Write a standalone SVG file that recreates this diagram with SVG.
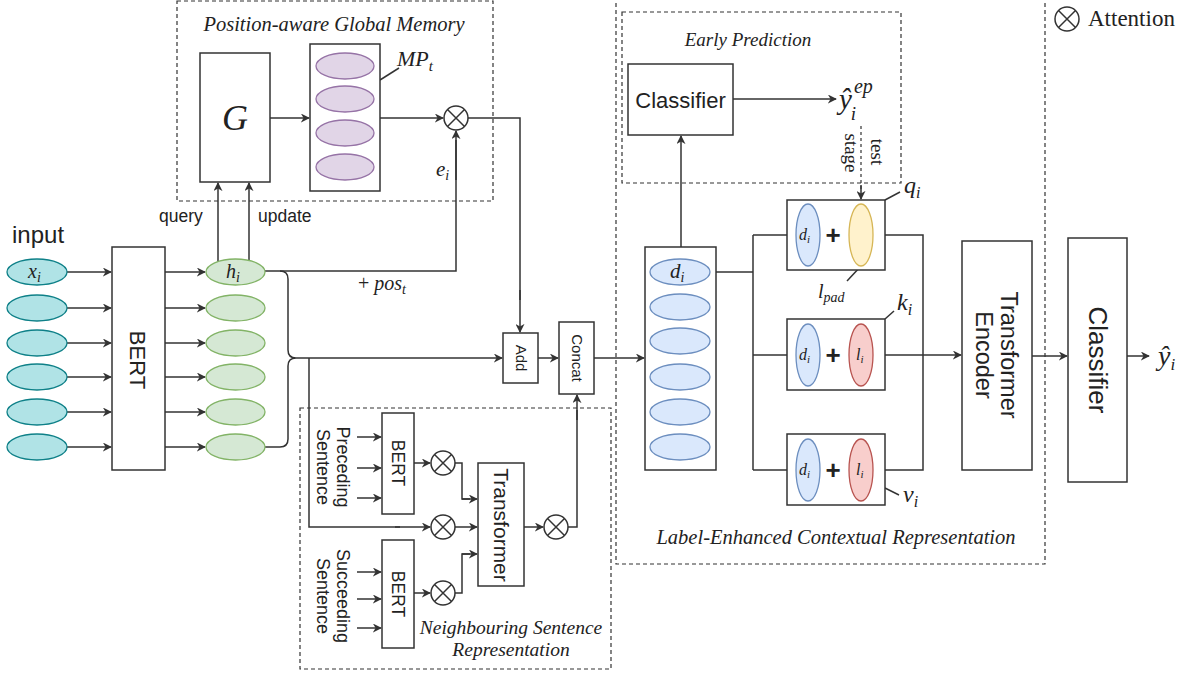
<svg xmlns="http://www.w3.org/2000/svg" width="1195" height="677" viewBox="0 0 1195 677">
<defs>
<marker id="ah" viewBox="0 0 10 10" refX="9" refY="5" markerWidth="9" markerHeight="9" markerUnits="userSpaceOnUse" orient="auto">
<path d="M0,0 L10,5 L0,10 L3,5 z" fill="#333"/>
</marker>
<g id="otimes">
<circle cx="0" cy="0" r="12" fill="#fff" stroke="#333" stroke-width="1.5"/>
<path d="M-8.5,-8.5 L8.5,8.5 M-8.5,8.5 L8.5,-8.5" stroke="#333" stroke-width="1.5"/>
</g>
</defs>
<style>
.box{fill:#fff;stroke:#333;stroke-width:1.5}
.dash{fill:none;stroke:#333;stroke-width:1.2;stroke-dasharray:4,3}
.ln{fill:none;stroke:#333;stroke-width:1.5}
.arr{fill:none;stroke:#333;stroke-width:1.5;marker-end:url(#ah)}
.sans{font-family:"Liberation Sans",Arial,sans-serif;fill:#222}
.ser{font-family:"Liberation Serif","Times New Roman",serif;fill:#222}
.it{font-style:italic}
.cyan{fill:#b0e3e6;stroke:#0e8088;stroke-width:1.3}
.green{fill:#d5e8d4;stroke:#82b366;stroke-width:1.3}
.blue{fill:#dae8fc;stroke:#6c8ebf;stroke-width:1.3}
.purple{fill:#e1d5e7;stroke:#9673a6;stroke-width:1.3}
.yellow{fill:#fff2cc;stroke:#d6b656;stroke-width:1.3}
.red{fill:#f8cecc;stroke:#b85450;stroke-width:1.3}
</style>

<!-- dashed group boxes -->
<g id="group-global-memory">
<rect class="dash" x="177" y="1" width="316" height="200"/>
<text class="ser it" x="334" y="31" font-size="20.5" text-anchor="middle">Position-aware Global Memory</text>
</g>
<g id="group-neighbour">
<rect class="dash" x="300" y="408" width="311" height="261"/>
<text class="ser it" x="511" y="634" font-size="19.5" text-anchor="middle">Neighbouring Sentence</text>
<text class="ser it" x="511" y="656" font-size="19.5" text-anchor="middle">Representation</text>
</g>
<g id="group-label-enhanced">
<rect class="dash" x="616" y="-2" width="429" height="566"/>
<text class="ser it" x="836" y="544" font-size="20.5" text-anchor="middle">Label-Enhanced Contextual Representation</text>
</g>
<g id="group-early-prediction">
<rect class="dash" x="622" y="12" width="279" height="171"/>
<text class="ser it" x="748" y="46" font-size="19" text-anchor="middle">Early Prediction</text>
</g>

<!-- connectors -->
<g id="connectors">
<path class="arr" d="M67,272 H111"/>
<path class="arr" d="M67,308 H111"/>
<path class="arr" d="M67,343 H111"/>
<path class="arr" d="M67,377 H111"/>
<path class="arr" d="M67,412 H111"/>
<path class="arr" d="M67,447 H111"/>
<path class="arr" d="M165,272 H205"/>
<path class="arr" d="M165,308 H205"/>
<path class="arr" d="M165,343 H205"/>
<path class="arr" d="M165,377 H205"/>
<path class="arr" d="M165,412 H205"/>
<path class="arr" d="M165,447 H205"/>
<path class="arr" d="M218,262 V183"/>
<path class="arr" d="M249,262 V183"/>
<path class="arr" d="M270,118 H309"/>
<path class="arr" d="M380,118 H443"/>
<path class="ln" d="M265,271 H456 V140"/>
<path class="arr" d="M456,180 V131"/>
<path class="ln" d="M468,118 H520 V300"/>
<path class="arr" d="M520,290 V332"/>
<path class="ln" d="M265,447 H280 Q288,447 288,439 L288,366 Q288,358 296,358 Q288,358 288,350 L288,279 Q288,271 280,271"/>
<path class="arr" d="M296,358 H502"/>
<path class="ln" d="M309,358 V527 H400"/>
<path class="arr" d="M395,527 H430"/>
<path class="arr" d="M538,358 H558"/>
<path class="arr" d="M594,358 H644"/>
<path class="arr" d="M357,437 H381"/>
<path class="arr" d="M357,468 H381"/>
<path class="arr" d="M357,498 H381"/>
<path class="arr" d="M357,572 H381"/>
<path class="arr" d="M357,599 H381"/>
<path class="arr" d="M357,628 H381"/>
<path class="arr" d="M414,463 H430"/>
<path class="arr" d="M414,593 H430"/>
<path class="ln" d="M455,463 H462 V499 H470"/>
<path class="arr" d="M462,499 H477"/>
<path class="arr" d="M455,527 H477"/>
<path class="ln" d="M455,593 H462 V554 H470"/>
<path class="arr" d="M462,554 H477"/>
<path class="arr" d="M524,527 H543"/>
<path class="ln" d="M568,527 H577 V410"/>
<path class="arr" d="M577,420 V395"/>
<path class="arr" d="M681,247 V136"/>
<path class="arr" d="M733,99 H836"/>
<path fill="none" stroke="#333" stroke-width="1.2" stroke-dasharray="3,3" d="M861,126 V192"/>
<path class="arr" d="M861,185 V199"/>
<path class="ln" d="M710,272 H753"/>
<path class="ln" d="M753,235 V470"/>
<path class="arr" d="M753,235 H795"/>
<path class="arr" d="M753,355 H795"/>
<path class="arr" d="M753,470 H795"/>
<path class="ln" d="M885,235 H923 V470 H885"/>
<path class="arr" d="M885,355 H961"/>
<path class="arr" d="M1032,356 H1067"/>
<path class="arr" d="M1127,356 H1149"/>
<path class="ln" d="M380,80 L399,68" stroke-width="1.2"/>
<path class="ln" d="M885,200 L900,192" stroke-width="1.2"/>
<path class="ln" d="M861,266 L847,281" stroke-width="1.2"/>
<path class="ln" d="M885,319 L894,311" stroke-width="1.2"/>
<path class="ln" d="M885,488 L899,495" stroke-width="1.2"/>
</g>

<g id="input">
<text class="sans" x="12" y="243" font-size="24">input</text>
<ellipse class="cyan" cx="37" cy="272" rx="30" ry="13"/>
<text class="ser it" x="28" y="278" font-size="20">x<tspan font-size="14" dy="4">i</tspan></text>
<ellipse class="cyan" cx="37" cy="308" rx="30" ry="13"/>
<ellipse class="cyan" cx="37" cy="343" rx="30" ry="13"/>
<ellipse class="cyan" cx="37" cy="377" rx="30" ry="13"/>
<ellipse class="cyan" cx="37" cy="412" rx="30" ry="13"/>
<ellipse class="cyan" cx="37" cy="447" rx="30" ry="13"/>
</g>

<g id="bert-main">
<rect class="box" x="112" y="247" width="53" height="223"/>
<text class="sans" font-size="22" text-anchor="middle" transform="translate(138,360) rotate(90)" dy="8">BERT</text>
</g>

<g id="hidden">
<ellipse class="green" cx="235.5" cy="272" rx="29.5" ry="13"/>
<text class="ser it" x="226" y="278" font-size="20">h<tspan font-size="14" dy="4">i</tspan></text>
<ellipse class="green" cx="235.5" cy="308" rx="29.5" ry="13"/>
<ellipse class="green" cx="235.5" cy="343" rx="29.5" ry="13"/>
<ellipse class="green" cx="235.5" cy="377" rx="29.5" ry="13"/>
<ellipse class="green" cx="235.5" cy="412" rx="29.5" ry="13"/>
<ellipse class="green" cx="235.5" cy="447" rx="29.5" ry="13"/>
<text class="sans" x="159" y="222" font-size="17.5">query</text>
<text class="sans" x="258" y="222" font-size="17.5">update</text>
</g>

<g id="G">
<rect class="box" x="200" y="53" width="70" height="129"/>
<text class="ser it" x="235" y="130" font-size="36" text-anchor="middle">G</text>
</g>

<g id="MP">
<rect class="box" x="310" y="44" width="70" height="147"/>
<ellipse class="purple" cx="345" cy="66" rx="29" ry="13"/>
<ellipse class="purple" cx="345" cy="99" rx="29" ry="13"/>
<ellipse class="purple" cx="345" cy="133" rx="29" ry="13"/>
<ellipse class="purple" cx="345" cy="167" rx="29" ry="13"/>
<text class="ser it" x="397" y="66" font-size="22">MP<tspan font-size="15" dy="5">t</tspan></text>
</g>

<g id="attn-memory">
<use href="#otimes" x="456" y="118"/>
<text class="ser it" x="436" y="176" font-size="21">e<tspan font-size="14" dy="4">i</tspan></text>
<text class="ser" x="358" y="290" font-size="20">+ <tspan class="it">pos</tspan><tspan class="it" font-size="14" dy="4">t</tspan></text>
</g>

<g id="add">
<rect class="box" x="503" y="333" width="35" height="50"/>
<text class="sans" font-size="15" text-anchor="middle" transform="translate(520.5,358) rotate(90)" dy="5">Add</text>
</g>
<g id="concat">
<rect class="box" x="559" y="322" width="35" height="72"/>
<text class="sans" font-size="15" text-anchor="middle" transform="translate(576.5,358) rotate(90)" dy="5">Concat</text>
</g>

<g id="neighbour">
<text class="sans" font-size="18" text-anchor="middle" transform="translate(333,467) rotate(90)"><tspan x="0" dy="-4">Preceding</tspan><tspan x="0" dy="20">Sentence</tspan></text>
<rect class="box" x="382" y="413" width="32" height="101"/>
<text class="sans" font-size="17.5" text-anchor="middle" transform="translate(398,463) rotate(90)" dy="6">BERT</text>
<text class="sans" font-size="18" text-anchor="middle" transform="translate(333,596) rotate(90)"><tspan x="0" dy="-4">Succeeding</tspan><tspan x="0" dy="20">Sentence</tspan></text>
<rect class="box" x="382" y="540" width="32" height="108"/>
<text class="sans" font-size="17.5" text-anchor="middle" transform="translate(398,594) rotate(90)" dy="6">BERT</text>
<use href="#otimes" x="443" y="463"/>
<use href="#otimes" x="443" y="527"/>
<use href="#otimes" x="443" y="593"/>
<rect class="box" x="478" y="463" width="46" height="123"/>
<text class="sans" font-size="21" text-anchor="middle" transform="translate(501,525) rotate(90)" dy="7">Transformer</text>
<use href="#otimes" x="556" y="527"/>
</g>

<g id="d-column">
<rect class="box" x="645" y="247" width="71" height="223"/>
<ellipse class="blue" cx="680" cy="272" rx="30" ry="13"/>
<text class="ser it" x="670" y="278" font-size="21">d<tspan font-size="14" dy="4">i</tspan></text>
<ellipse class="blue" cx="680" cy="307" rx="30" ry="13"/>
<ellipse class="blue" cx="680" cy="341" rx="30" ry="13"/>
<ellipse class="blue" cx="680" cy="377" rx="30" ry="13"/>
<ellipse class="blue" cx="680" cy="412" rx="30" ry="13"/>
<ellipse class="blue" cx="680" cy="447" rx="30" ry="13"/>
</g>

<g id="early-classifier">
<rect class="box" x="628" y="64" width="105" height="71"/>
<text class="sans" x="680.5" y="108" font-size="22" text-anchor="middle">Classifier</text>
<text class="ser it" x="839" y="109" font-size="29">ŷ<tspan font-size="20" dx="2" dy="-16">ep</tspan><tspan font-size="19" dx="-22" dy="27">i</tspan></text>
<text class="ser" font-size="19" text-anchor="middle" transform="translate(850,153) rotate(90)" dy="5">stage</text>
<text class="ser" font-size="19" text-anchor="middle" transform="translate(876,152) rotate(90)" dy="5">test</text>
</g>

<g id="q-box">
<rect class="box" x="787" y="200" width="98" height="70"/>
<ellipse class="blue" cx="808" cy="235" rx="12" ry="31"/>
<text class="ser it" x="799" y="240" font-size="16">d<tspan font-size="11" dy="3">i</tspan></text>
<text class="sans" x="833" y="244" font-size="26" text-anchor="middle" font-weight="bold">+</text>
<ellipse class="yellow" cx="861" cy="235" rx="12" ry="31"/>
<text class="ser it" x="904" y="193" font-size="24">q<tspan font-size="16" dy="5">i</tspan></text>
<text class="ser it" x="818" y="298" font-size="20">l<tspan font-size="14" dy="4">pad</tspan></text>
</g>
<g id="k-box">
<rect class="box" x="787" y="319" width="98" height="71"/>
<ellipse class="blue" cx="808" cy="355" rx="12" ry="31"/>
<text class="ser it" x="799" y="360" font-size="16">d<tspan font-size="11" dy="3">i</tspan></text>
<text class="sans" x="833" y="364" font-size="26" text-anchor="middle" font-weight="bold">+</text>
<ellipse class="red" cx="861" cy="355" rx="12" ry="31"/>
<text class="ser it" x="856" y="360" font-size="16">l<tspan font-size="11" dy="3">i</tspan></text>
<text class="ser it" x="897" y="310" font-size="24">k<tspan font-size="16" dy="5">i</tspan></text>
</g>
<g id="v-box">
<rect class="box" x="787" y="434" width="98" height="71"/>
<ellipse class="blue" cx="808" cy="470" rx="12" ry="31"/>
<text class="ser it" x="799" y="475" font-size="16">d<tspan font-size="11" dy="3">i</tspan></text>
<text class="sans" x="833" y="479" font-size="26" text-anchor="middle" font-weight="bold">+</text>
<ellipse class="red" cx="861" cy="470" rx="12" ry="31"/>
<text class="ser it" x="856" y="475" font-size="16">l<tspan font-size="11" dy="3">i</tspan></text>
<text class="ser it" x="903" y="502" font-size="24">v<tspan font-size="16" dy="5">i</tspan></text>
</g>

<g id="transformer-encoder">
<rect class="box" x="962" y="241" width="70" height="229"/>
<text class="sans" font-size="23.5" text-anchor="middle" transform="translate(997,355) rotate(90)"><tspan x="0" dy="-4">Transformer</tspan><tspan x="0" dy="25">Encoder</tspan></text>
</g>
<g id="final-classifier">
<rect class="box" x="1068" y="238" width="59" height="244"/>
<text class="sans" font-size="26" text-anchor="middle" transform="translate(1097.5,360) rotate(90)" dy="9">Classifier</text>
<text class="ser it" x="1158" y="365" font-size="28">ŷ<tspan font-size="17" dy="5">i</tspan></text>
</g>

<g id="legend">
<use href="#otimes" x="1067" y="19"/>
<text class="ser" x="1088" y="26" font-size="23">Attention</text>
</g>
</svg>
